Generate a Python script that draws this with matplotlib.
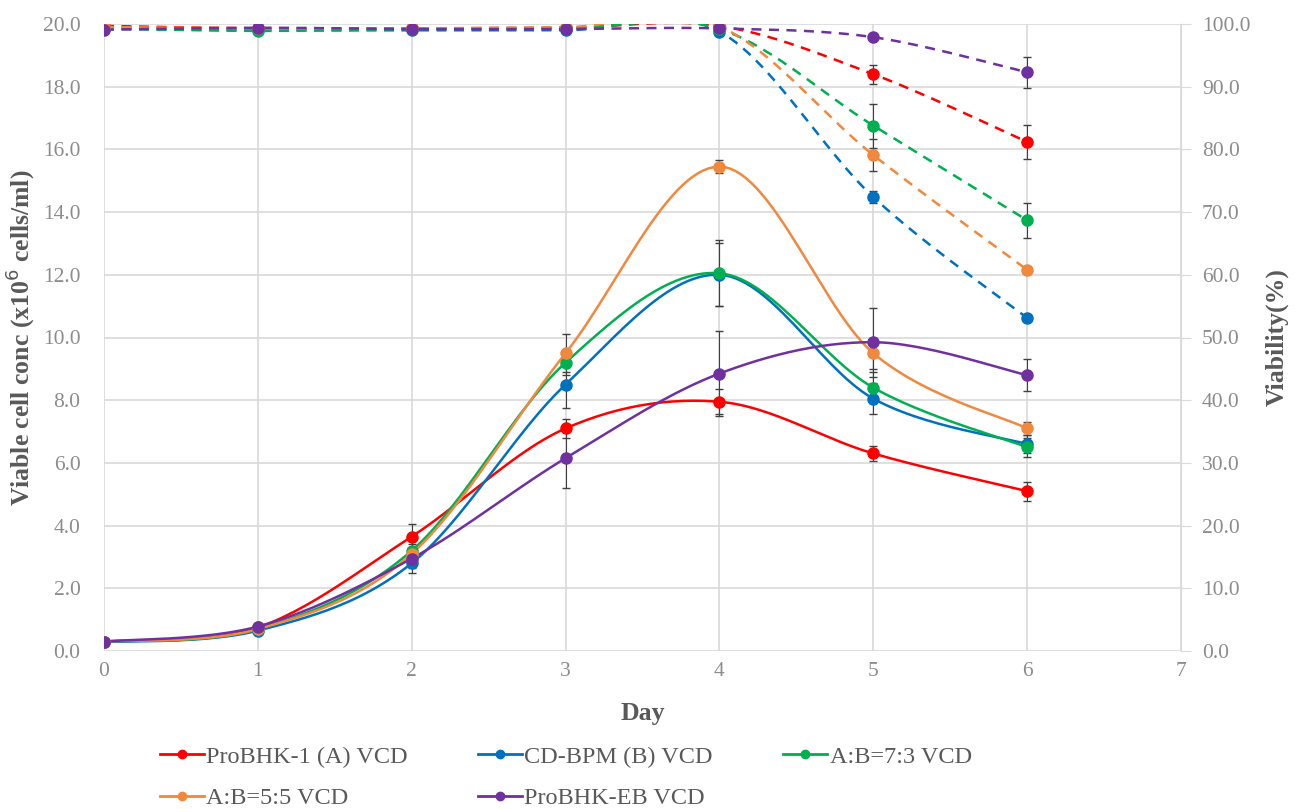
import numpy as np
import matplotlib
matplotlib.use("Agg")
import matplotlib.pyplot as plt
from matplotlib.lines import Line2D

# === Data ===
days = [0, 1, 2, 3, 4, 5, 6]
names = ["ProBHK-1 (A) VCD", "CD-BPM (B) VCD", "A:B=7:3 VCD", "A:B=5:5 VCD", "ProBHK-EB VCD"]
colors = ["#FF0000", "#0070C0", "#00B050", "#F0883E", "#7030A0"]

vcd_a = [0.30, 0.75, 3.65, 7.10, 7.95, 6.30, 5.10]
vcd_b = [0.28, 0.65, 2.80, 8.50, 12.00, 8.05, 6.60]
vcd_73 = [0.30, 0.70, 3.20, 9.20, 12.05, 8.40, 6.50]
vcd_55 = [0.30, 0.70, 3.10, 9.50, 15.45, 9.50, 7.10]
vcd_eb = [0.30, 0.78, 2.95, 6.15, 8.85, 9.85, 8.80]

err_a = [0.03, 0.05, 0.40, 0.30, 0.40, 0.25, 0.30]
err_b = [0.03, 0.05, 0.30, 0.75, 1.00, 0.50, 0.30]
err_73 = [0.03, 0.05, 0.30, 0.40, 1.05, 0.50, 0.30]
err_55 = [0.03, 0.05, 0.30, 0.60, 0.20, 0.50, 0.20]
err_eb = [0.03, 0.05, 0.30, 0.95, 1.35, 1.10, 0.50]

via_a = [99.7, 99.3, 99.3, 99.4, 99.7, 92.0, 81.2]
via_b = [99.2, 99.0, 99.0, 99.0, 98.8, 72.4, 53.1]
via_73 = [99.3, 98.9, 99.2, 99.3, 99.2, 83.8, 68.7]
via_55 = [99.5, 99.3, 99.3, 99.5, 99.6, 79.1, 60.8]
via_eb = [99.1, 99.4, 99.2, 99.2, 99.3, 97.9, 92.3]

verr_a = [0.2, 0.2, 0.2, 0.2, 0.2, 1.5, 2.7]
verr_b = [0.2, 0.2, 0.2, 0.2, 0.2, 1.0, 0.3]
verr_73 = [0.2, 0.2, 0.2, 0.2, 0.2, 3.5, 2.8]
verr_55 = [0.2, 0.2, 0.2, 0.2, 0.2, 2.5, 0.4]
verr_eb = [0.2, 0.2, 0.2, 0.2, 0.2, 0.3, 2.5]

vcd = [vcd_a, vcd_b, vcd_73, vcd_55, vcd_eb]
vcd_err = [err_a, err_b, err_73, err_55, err_eb]
via = [via_a, via_b, via_73, via_55, via_eb]
via_err = [verr_a, verr_b, verr_73, verr_55, verr_eb]


def smooth(x, y, n=30):
    # Excel-style smoothed line (cubic bezier, 1/6 tangents)
    p = np.column_stack([x, y]).astype(float)
    out = []
    for i in range(len(p) - 1):
        p0 = p[max(i - 1, 0)]
        p1 = p[i]
        p2 = p[i + 1]
        p3 = p[min(i + 2, len(p) - 1)]
        c1 = p1 + (p2 - p0) / 6
        c2 = p2 - (p3 - p1) / 6
        t = np.linspace(0, 1, n)[:, None]
        seg = (1 - t) ** 3 * p1 + 3 * (1 - t) ** 2 * t * c1 + 3 * (1 - t) * t ** 2 * c2 + t ** 3 * p2
        out.append(seg if i == 0 else seg[1:])
    s = np.vstack(out)
    return s[:, 0], s[:, 1]


plt.rcParams["font.family"] = ["Liberation Serif", "DejaVu Serif"]

fig = plt.figure(figsize=(13.03, 8.09), dpi=100)
ax = fig.add_axes([104 / 1303, 158 / 809, 1077 / 1303, 627 / 809])
ax2 = ax.twinx()

ax.set_xlim(0, 7)
ax.set_ylim(0, 20)
ax2.set_ylim(0, 100)
ax.set_xticks(range(8))
ax.set_yticks(np.arange(0, 20.1, 2))
ax.set_yticklabels([f"{v:.1f}" for v in np.arange(0, 20.1, 2)])
ax2.set_yticks(np.arange(0, 100.1, 10))
ax2.set_yticklabels([f"{v:.1f}" for v in np.arange(0, 100.1, 10)])

ax.grid(True, color="#D9D9D9", lw=1.2)
ax.set_axisbelow(True)
for a in (ax, ax2):
    for s in a.spines.values():
        s.set_visible(False)
    a.tick_params(length=0, labelsize=15.5, colors="#8C8C8C")
ax2.spines["right"].set_visible(True)
ax2.spines["right"].set_color("#D9D9D9")
ax2.tick_params(axis="y", length=7, color="#D9D9D9", direction="out", pad=8)
ax.tick_params(axis="x", pad=8)
ax.tick_params(axis="y", pad=17)

lab = dict(fontsize=18.5, fontweight="bold", color="#595959")
ax.set_xlabel("Day", labelpad=15, **lab)
ax.set_ylabel("Viable cell conc (x10$^{6}$ cells/ml)", labelpad=4, **lab)
ax2.set_ylabel("Viability(%)", labelpad=11, **lab)

# viability on secondary axis (dashed)
for y, e, c in zip(via, via_err, colors):
    sx, sy = smooth(days, y)
    ax2.plot(sx, sy, color=c, lw=1.8, ls=(0, (4, 3)), zorder=3)
    ax2.errorbar(days, y, yerr=e, fmt="none", ecolor="#404040", elinewidth=0.8, capsize=3, zorder=4)
    ax2.plot(days, y, "o", color=c, ms=8, zorder=5)

# VCD on primary axis (solid)
for y, e, c in zip(vcd, vcd_err, colors):
    sx, sy = smooth(days, y)
    ax.plot(sx, sy, color=c, lw=1.8, zorder=3)
    ax.errorbar(days, y, yerr=e, fmt="none", ecolor="#404040", elinewidth=0.8, capsize=3, zorder=4)
    ax.plot(days, y, "o", color=c, ms=8, zorder=5)

# legend filled row by row like the original
handles = [Line2D([], [], color=c, lw=2, marker="o", ms=6) for c in colors]
order = [0, 3, 1, 4, 2]
fig.legend([handles[i] for i in order], [names[i] for i in order],
           loc="upper left", bbox_to_anchor=(0.106, 0.105), ncol=3,
           frameon=False, fontsize=17.5, handlelength=1.8, handletextpad=0.1,
           columnspacing=2.9, labelspacing=0.8, labelcolor="#595959")

fig.savefig("out.png", dpi=100)
